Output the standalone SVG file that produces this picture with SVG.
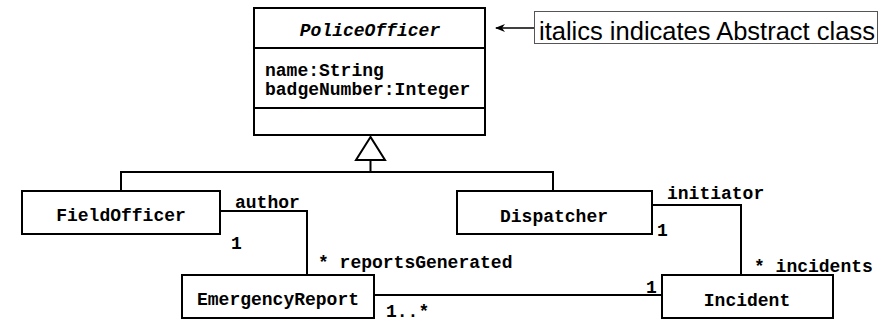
<svg xmlns="http://www.w3.org/2000/svg" width="884" height="321" viewBox="0 0 884 321">
  <defs>
    <style>
      .box { fill: #ffffff; stroke: #000000; stroke-width: 2; }
      .line { fill: none; stroke: #000000; stroke-width: 2; }
      .mono { font-family: "Liberation Mono", "Courier New", monospace; font-weight: bold; font-size: 18px; fill: #000000; }
      .name { text-anchor: middle; }
      .note { font-family: "Liberation Sans", Arial, sans-serif; font-size: 25.5px; fill: #000000; }
    </style>
    <marker id="arrowHead" viewBox="0 0 10 8" refX="9" refY="4" markerWidth="10" markerHeight="8" markerUnits="userSpaceOnUse" orient="auto">
      <path d="M10,4 L0,0 L3,4 L0,8 Z" fill="#000000"/>
    </marker>
  </defs>

  <!-- abstract superclass -->
  <g id="PoliceOfficer">
    <rect class="box" x="254" y="8" width="231" height="127"/>
    <line class="line" x1="254" y1="48" x2="485" y2="48"/>
    <line class="line" x1="254" y1="108" x2="485" y2="108"/>
    <text class="mono name" x="370" y="36" font-style="italic">PoliceOfficer</text>
    <text class="mono" x="265" y="76">name:String</text>
    <text class="mono" x="265" y="95">badgeNumber:Integer</text>
  </g>

  <!-- annotation -->
  <g id="note">
    <rect x="534.5" y="11.5" width="343" height="32" fill="#ffffff" stroke="#555555" stroke-width="1"/>
    <text class="note" x="539" y="40">italics indicates Abstract class</text>
  </g>

  <g id="FieldOfficer">
    <rect class="box" x="22" y="191" width="198" height="43"/>
    <text class="mono name" x="121" y="221">FieldOfficer</text>
  </g>

  <g id="Dispatcher">
    <rect class="box" x="457" y="191" width="195" height="43"/>
    <text class="mono name" x="554" y="222">Dispatcher</text>
  </g>

  <g id="EmergencyReport">
    <rect class="box" x="182" y="275" width="192" height="43"/>
    <text class="mono name" x="278" y="305">EmergencyReport</text>
  </g>

  <g id="Incident">
    <rect class="box" x="662" y="275" width="171" height="43"/>
    <text class="mono name" x="747" y="306">Incident</text>
  </g>

  <g id="connectors">
    <!-- note pointer -->
    <line x1="534" y1="28" x2="496" y2="28" stroke="#000000" stroke-width="1.5" marker-end="url(#arrowHead)"/>

    <!-- generalization -->
    <polygon points="370.5,137 356,160 385,160" fill="#ffffff" stroke="#000000" stroke-width="2"/>
    <polyline class="line" points="370.5,160 370.5,172"/>
    <polyline class="line" points="121,191 121,172 553,172 553,191"/>

    <!-- FieldOfficer - EmergencyReport -->
    <polyline class="line" points="220,211 307,211 307,275"/>
    <text class="mono" x="235" y="208">author</text>
    <text class="mono" x="231" y="249">1</text>
    <text class="mono" x="318" y="268">* reportsGenerated</text>

    <!-- Dispatcher - Incident -->
    <polyline class="line" points="652,205 741,205 741,275"/>
    <text class="mono" x="667" y="199">initiator</text>
    <text class="mono" x="657" y="236">1</text>
    <text class="mono" x="754" y="272">* incidents</text>

    <!-- EmergencyReport - Incident -->
    <line class="line" x1="374" y1="295" x2="662" y2="295"/>
    <text class="mono" x="646" y="293">1</text>
    <text class="mono" x="386" y="317">1..*</text>
  </g>
</svg>
